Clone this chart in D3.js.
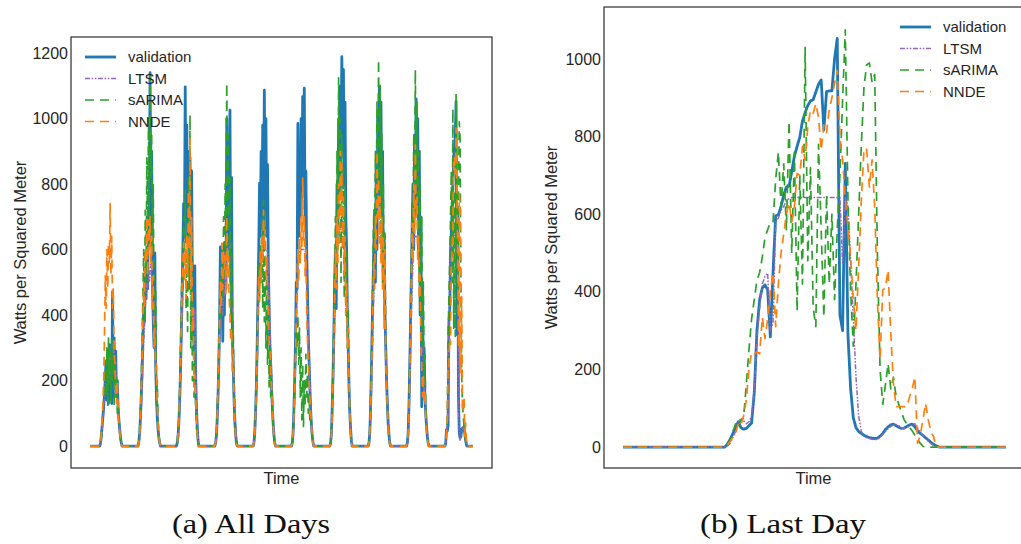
<!DOCTYPE html>
<html>
<head>
<meta charset="utf-8">
<script src="https://cdn.jsdelivr.net/npm/d3@7"></script>
<style>
body { margin: 0; background: #fff; }
svg { display: block; }
</style>
</head>
<body>
<svg id="chart" width="1021" height="544"></svg>
<script>
// ---- data ----
var seriesNames = ['validation', 'LTSM', 'sARIMA', 'NNDE'];
var leftTicks = [0, 200, 400, 600, 800, 1000, 1200];
var rightTicks = [0, 200, 400, 600, 800, 1000];

// All days: 10 days, one value every 30 minutes (48 per day)
var validationAll = [
  [0,0,0,0,0,0,0,0,0,0,0,0,0, 10,30,60,90,120,160,210,260,140,290,130,310,170,280,130,470,150,330,190,290,150,200,120,80,50,25,10,0, 0,0,0,0,0,0,0],
  [0,0,0,0,0,0,0,0,0,0,0,0,0, 15,40,90,150,230,320,420,380,520,450,600,480,720,620,1140,700,900,520,380,300,590,250,150,90,50,25,10,0, 0,0,0,0,0,0,0],
  [0,0,0,0,0,0,0,0,0,0,0,0,0, 10,30,70,130,220,330,450,600,740,640,1097,700,980,620,900,680,880,600,840,500,380,300,550,220,120,60,20,0, 0,0,0,0,0,0,0],
  [0,0,0,0,0,0,0,0,0,0,0,0,0, 10,30,80,150,250,380,608,420,500,320,560,400,620,480,1000,600,880,640,1026,500,820,350,250,150,80,40,12,0, 0,0,0,0,0,0,0],
  [0,0,0,0,0,0,0,0,0,0,0,0,0, 10,40,100,180,300,450,600,803,640,900,700,980,620,1087,750,1000,640,860,560,420,300,250,180,120,70,35,10,0, 0,0,0,0,0,0,0],
  [0,0,0,0,0,0,0,0,0,0,0,0,0, 10,40,110,200,320,500,480,985,640,900,700,1000,760,1067,820,1093,700,840,600,480,340,260,180,110,60,30,10,0, 0,0,0,0,0,0,0],
  [0,0,0,0,0,0,0,0,0,0,0,0,0, 10,40,120,220,340,500,600,420,800,650,1000,760,1100,900,1189,1000,1150,800,1050,700,600,400,300,180,100,50,15,0, 0,0,0,0,0,0,0],
  [0,0,0,0,0,0,0,0,0,0,0,0,0, 10,40,120,230,360,480,600,720,500,850,600,1000,750,1100,800,1050,700,900,500,640,400,300,200,130,70,35,10,0, 0,0,0,0,0,0,0],
  [0,0,0,0,0,0,0,0,0,0,0,0,0, 10,40,120,240,380,520,660,800,600,950,700,1060,800,1000,600,900,400,700,120,500,200,300,150,100,60,30,10,0, 0,0,0,0,0,0,0],
  [0,0,0,0,0,0,0,0,0,0,0,0,0, 8,50,46,62,380,405,596,650,710,798,880,915,946,1053,340,731,150,40,25,28,52,55,49,59,35,18,3,0, 0,0,0,0,0,0,0]
];
var ltsmAll = [
  [0,0,0,0,0,0,0,0,0,0,0,0,0, 5,20,45,80,110,150,190,230,210,260,200,300,220,270,200,310,260,300,230,260,190,170,130,90,55,30,12,0, 0,0,0,0,0,0,0],
  [0,0,0,0,0,0,0,0,0,0,0,0,0, 8,25,60,110,170,240,320,360,420,460,500,480,520,500,540,560,500,430,380,330,420,300,200,120,70,35,12,0, 0,0,0,0,0,0,0],
  [0,0,0,0,0,0,0,0,0,0,0,0,0, 5,20,55,110,190,280,380,480,560,620,640,640,640,640,640,640,630,600,560,480,400,360,420,260,150,80,25,0, 0,0,0,0,0,0,0],
  [0,0,0,0,0,0,0,0,0,0,0,0,0, 5,20,60,120,200,300,420,380,450,400,480,460,520,500,560,600,620,620,620,560,480,400,320,230,140,70,20,0, 0,0,0,0,0,0,0],
  [0,0,0,0,0,0,0,0,0,0,0,0,0, 5,25,70,140,230,340,450,540,590,600,600,600,600,600,600,600,600,590,540,460,380,300,230,160,100,50,15,0, 0,0,0,0,0,0,0],
  [0,0,0,0,0,0,0,0,0,0,0,0,0, 5,25,80,150,250,380,450,520,580,600,600,600,600,600,600,600,600,580,520,440,360,280,200,130,80,40,12,0, 0,0,0,0,0,0,0],
  [0,0,0,0,0,0,0,0,0,0,0,0,0, 5,25,80,160,260,380,480,520,580,620,640,640,660,680,690,690,690,680,640,560,460,360,260,170,100,50,15,0, 0,0,0,0,0,0,0],
  [0,0,0,0,0,0,0,0,0,0,0,0,0, 5,25,80,160,260,360,460,540,600,640,640,640,640,640,640,640,620,580,520,460,380,300,220,150,90,45,12,0, 0,0,0,0,0,0,0],
  [0,0,0,0,0,0,0,0,0,0,0,0,0, 5,25,80,170,280,390,490,560,610,640,640,640,640,640,640,620,560,480,380,300,240,190,140,100,60,30,10,0, 0,0,0,0,0,0,0],
  [0,0,0,0,0,0,0,0,0,0,0,0,0, 3,40,70,80,360,440,580,620,643,643,643,643,643,643,643,620,180,28,18,32,53,55,50,60,35,18,3,0, 0,0,0,0,0,0,0]
];
var sarimaAll = [
  [0,0,0,0,0,0,0,0,0,0,0,0,0, 8,30,70,110,150,200,260,150,300,120,330,180,290,140,330,200,280,120,260,170,220,100,130,80,45,20,8,0, 0,0,0,0,0,0,0],
  [0,0,0,0,0,0,0,0,0,0,0,0,0, 10,40,120,200,330,450,600,380,720,500,880,620,1000,700,1130,820,950,600,800,420,300,480,120,200,80,40,10,0, 0,0,0,0,0,0,0],
  [0,0,0,0,0,0,0,0,0,0,0,0,0, 10,40,90,170,280,420,550,480,700,560,780,420,600,350,820,480,1010,300,620,200,380,150,260,120,60,30,8,0, 0,0,0,0,0,0,0],
  [0,0,0,0,0,0,0,0,0,0,0,0,0, 10,40,100,180,300,420,520,380,600,450,700,520,800,600,1108,700,950,560,820,400,620,300,380,160,80,30,8,0, 0,0,0,0,0,0,0],
  [0,0,0,0,0,0,0,0,0,0,0,0,0, 10,40,100,200,320,450,560,450,620,500,700,420,750,380,680,300,560,250,420,180,300,150,200,100,60,30,8,0, 0,0,0,0,0,0,0],
  [0,0,0,0,0,0,0,0,0,0,0,0,0, 10,40,100,180,260,350,300,400,250,360,150,300,80,250,60,200,120,280,150,220,100,160,80,100,50,25,8,0, 0,0,0,0,0,0,0],
  [0,0,0,0,0,0,0,0,0,0,0,0,0, 10,50,130,240,380,520,700,500,900,600,1124,700,1000,500,950,600,850,450,780,400,600,300,420,200,100,40,10,0, 0,0,0,0,0,0,0],
  [0,0,0,0,0,0,0,0,0,0,0,0,0, 10,50,140,260,400,560,720,600,900,700,1050,800,1180,700,1100,600,950,500,800,400,650,300,200,120,60,25,8,0, 0,0,0,0,0,0,0],
  [0,0,0,0,0,0,0,0,0,0,0,0,0, 10,50,140,260,420,580,750,600,950,700,1148,800,1050,600,900,500,800,400,700,300,500,200,280,120,60,25,8,0, 0,0,0,0,0,0,0],
  [0,0,0,0,0,0,0,0,0,0,0,0,0, 5,60,75,330,450,560,690,840,500,1030,360,780,335,1075,640,400,780,990,940,500,215,130,90,60,42,10,0,0, 0,0,0,0,0,0,0]
];
var nndeAll = [
  [0,0,0,0,0,0,0,0,0,0,0,0,0, 10,35,80,130,200,350,520,420,600,480,620,560,740,520,640,420,480,300,240,180,130,200,110,70,40,20,5,0, 0,0,0,0,0,0,0],
  [0,0,0,0,0,0,0,0,0,0,0,0,0, 10,40,100,180,260,380,500,420,600,560,700,520,690,600,700,560,640,420,520,300,360,220,250,120,60,30,10,0, 0,0,0,0,0,0,0],
  [0,0,0,0,0,0,0,0,0,0,0,0,0, 10,35,80,150,240,350,480,560,620,500,600,450,640,520,780,600,940,480,700,350,420,180,220,150,90,40,10,0, 0,0,0,0,0,0,0],
  [0,0,0,0,0,0,0,0,0,0,0,0,0, 10,40,90,170,260,380,500,420,620,480,600,540,580,460,700,520,580,450,400,320,360,220,280,140,70,30,8,0, 0,0,0,0,0,0,0],
  [0,0,0,0,0,0,0,0,0,0,0,0,0, 10,40,100,180,290,400,520,440,600,500,640,560,720,600,660,520,580,460,420,320,300,220,180,120,70,30,8,0, 0,0,0,0,0,0,0],
  [0,0,0,0,0,0,0,0,0,0,0,0,0, 10,40,100,180,280,400,520,600,500,640,560,700,600,818,620,700,520,600,420,320,260,200,150,100,60,30,8,0, 0,0,0,0,0,0,0],
  [0,0,0,0,0,0,0,0,0,0,0,0,0, 10,40,110,200,320,450,600,480,700,560,800,620,900,700,860,600,760,520,640,400,500,300,360,200,100,40,10,0, 0,0,0,0,0,0,0],
  [0,0,0,0,0,0,0,0,0,0,0,0,0, 10,40,110,200,320,440,560,480,700,600,900,700,820,620,760,560,700,480,640,360,600,250,200,120,60,30,8,0, 0,0,0,0,0,0,0],
  [0,0,0,0,0,0,0,0,0,0,0,0,0, 10,40,110,220,360,500,680,560,800,650,920,700,760,560,640,450,520,300,250,150,220,130,170,90,50,25,8,0, 0,0,0,0,0,0,0],
  [0,0,0,0,0,0,0,0,0,0,0,0,0, 5,35,80,245,240,330,310,550,580,700,868,885,830,971,800,567,300,770,740,224,456,104,104,150,30,70,10,0, 0,0,0,0,0,0,0]
];

// Last day: one value every 10 minutes (144 values)
var validationLast = [
  0,0,0,0,0,0,0,0,0,0, 0,0,0,0,0,0,0,0,0,0, 0,0,0,0,0,0,0,0,0,0, 0,0,0,0,0,0,0,0,0,
  8,20,35,50,65,50,46,48,55,62,
  140,300,380,410,418,405,284,450,596,598,
  620,650,670,672,710,750,775,798,840,862,
  880,892,895,915,935,946,817,916,918,918,
  1000,1053,340,300,731,290,150,75,50,40,
  35,30,27,24,23,22,23,28,35,45,
  52,57,59,55,51,48,49,53,57,59,
  52,42,35,30,24,18,12,7,3,
  0,0,0,0,0,0,0,0,0,0, 0,0,0,0,0,0,0,0,0,0, 0,0,0,0,0,0
];
var ltsmLast = [
  0,0,0,0,0,0,0,0,0,0, 0,0,0,0,0,0,0,0,0,0, 0,0,0,0,0,0,0,0,0,0, 0,0,0,0,0,0,0,0,0,
  3,10,25,40,60,75,68,60,65,80,
  150,280,360,420,440,448,300,320,580,590,
  610,620,635,640,643,643,643,643,643,643,
  643,643,643,643,643,643,643,643,643,643,
  643,643,643,470,643,620,480,330,180,80,
  40,28,24,22,20,19,20,25,32,40,
  47,53,57,58,55,50,48,50,54,58,
  60,50,38,30,22,15,9,4,1,
  0,0,0,0,0,0,0,0,0,0, 0,0,0,0,0,0,0,0,0,0, 0,0,0,0,0,0
];
var sarimaLast = [
  0,0,0,0,0,0,0,0,0,0, 0,0,0,0,0,0,0,0,0,0, 0,0,0,0,0,0,0,0,0,0, 0,0,0,0,0,0,0,0,0,
  5,20,40,60,50,70,75,160,250,330,
  380,430,450,490,540,560,580,580,690,760,
  620,730,560,840,500,760,350,700,420,1030,
  480,720,360,310,780,560,335,650,420,600,
  380,560,700,895,1075,640,400,260,420,600,
  780,930,985,990,940,960,500,200,110,160,
  215,150,180,130,110,90,70,60,50,42,
  30,20,10,2,0,0,0,0,0,
  0,0,0,0,0,0,0,0,0,0, 0,0,0,0,0,0,0,0,0,0, 0,0,0,0,0,0
];
var nndeLast = [
  0,0,0,0,0,0,0,0,0,0, 0,0,0,0,0,0,0,0,0,0, 0,0,0,0,0,0,0,0,0,0, 0,0,0,0,0,0,0,0,0,
  5,15,25,35,60,55,80,120,200,245,
  240,245,240,335,280,330,400,450,310,420,
  500,550,600,630,580,620,705,700,775,740,
  826,868,860,885,850,765,830,810,870,900,
  937,971,800,740,640,567,490,380,300,464,
  636,770,767,670,740,619,379,224,405,410,
  456,293,164,104,104,104,104,104,129,150,
  181,10,30,70,113,70,40,26,0,
  0,0,0,0,0,0,0,0,0,0, 0,0,0,0,0,0,0,0,0,0, 0,0,0,0,0,0
];

// ---- styles ----
var styles = {
  'validation': {color: '#1f77b4', width: 2.8, dash: null},
  'LTSM':       {color: '#9467bd', width: 1.5, dash: '5,1.6,1.6,1.6,1.6,1.6'},
  'sARIMA':     {color: '#2ca02c', width: 1.7, dash: '9,6'},
  'NNDE':       {color: '#ff7f0e', width: 1.7, dash: '9,6'}
};
var textColor = '#262626';
var fontSans = "'Liberation Sans', Arial, sans-serif";

var svg = d3.select('#chart');

function drawPanel(p) {
    var n = p.series[0].length;
    var x = d3.scaleLinear()
        .domain([-0.05 * (n - 1), 1.05 * (n - 1)])
        .range([p.left, p.right]);
    var y = d3.scaleLinear().domain(p.yDomain).range([p.bottom, p.top]);

    var g = svg.append('g');

    // clip lines to the frame
    g.append('clipPath').attr('id', p.id + '-clip')
      .append('rect')
        .attr('x', p.left).attr('y', p.top)
        .attr('width', p.right - p.left).attr('height', p.bottom - p.top);

    var line = d3.line()
        .x(function(d, i) { return x(i); })
        .y(function(d) { return y(d); });

    var linesG = g.append('g').attr('clip-path', 'url(#' + p.id + '-clip)');
    seriesNames.forEach(function(name, k) {
        var s = styles[name];
        linesG.append('path')
            .datum(p.series[k])
            .attr('fill', 'none')
            .attr('stroke', s.color)
            .attr('stroke-width', s.width)
            .attr('stroke-dasharray', s.dash)
            .attr('stroke-linejoin', 'round')
            .attr('d', line);
    });

    // y axis labels only, no tick marks (seaborn white look)
    var yAxis = d3.axisLeft(y)
        .tickValues(p.ticks)
        .tickFormat(d3.format('d'))
        .tickSize(0)
        .tickPadding(3);
    var axisG = g.append('g')
        .attr('transform', 'translate(' + p.left + ',0)')
        .call(yAxis);
    axisG.select('.domain').remove();
    axisG.selectAll('text')
        .attr('font-family', fontSans)
        .attr('font-size', 16)
        .attr('fill', textColor);

    // frame
    g.append('rect')
        .attr('x', p.left).attr('y', p.top)
        .attr('width', p.right - p.left).attr('height', p.bottom - p.top)
        .attr('fill', 'none')
        .attr('stroke', '#333')
        .attr('stroke-width', 1.25);

    // axis titles
    g.append('text')
        .attr('x', (p.left + Math.min(p.right, 1021)) / 2 + p.timeShift)
        .attr('y', p.bottom + 16)
        .attr('text-anchor', 'middle')
        .attr('font-family', fontSans)
        .attr('font-size', 16.5)
        .attr('fill', textColor)
        .text('Time');

    g.append('text')
        .attr('transform', 'translate(' + p.yLabelX + ',' + (p.top + p.bottom) / 2 + ') rotate(-90)')
        .attr('text-anchor', 'middle')
        .attr('dy', '0.35em')
        .attr('font-family', fontSans)
        .attr('font-size', 16.5)
        .attr('fill', textColor)
        .text('Watts per Squared Meter');

    // legend
    var legend = g.append('g').attr('transform', 'translate(' + p.legendX + ',' + p.legendY + ')');
    seriesNames.forEach(function(name, k) {
        var s = styles[name];
        var row = legend.append('g').attr('transform', 'translate(0,' + (k * 21.5) + ')');
        row.append('line')
            .attr('x1', 0).attr('x2', 31)
            .attr('stroke', s.color)
            .attr('stroke-width', s.width)
            .attr('stroke-dasharray', s.dash);
        row.append('text')
            .attr('x', 43)
            .attr('dy', '0.35em')
            .attr('font-family', fontSans)
            .attr('font-size', 15)
            .attr('fill', textColor)
            .text(name);
    });

    // caption under the panel
    svg.append('text')
        .attr('x', p.captionX)
        .attr('y', 533)
        .attr('text-anchor', 'middle')
        .attr('font-family', "'Liberation Serif', 'DejaVu Serif', serif")
        .attr('font-size', 27)
        .attr('textLength', p.captionW)
        .attr('lengthAdjust', 'spacingAndGlyphs')
        .attr('fill', '#111')
        .text(p.caption);
}

drawPanel({
    id: 'all',
    series: [validationAll.flat(), ltsmAll.flat(), sarimaAll.flat(), nndeAll.flat()],
    left: 71, right: 492, top: 37, bottom: 468,
    yDomain: [-67, 1249], ticks: leftTicks,
    yLabelX: 20, timeShift: 0,
    legendX: 85, legendY: 57,
    caption: '(a) All Days', captionX: 251, captionW: 158
});

drawPanel({
    id: 'last',
    series: [validationLast, ltsmLast, sarimaLast, nndeLast],
    left: 604, right: 1025, top: 7, bottom: 468,
    yDomain: [-54, 1134], ticks: rightTicks,
    yLabelX: 551, timeShift: 1,
    legendX: 900, legendY: 27,
    caption: '(b) Last Day', captionX: 783, captionW: 166
});
</script>
</body>
</html>
